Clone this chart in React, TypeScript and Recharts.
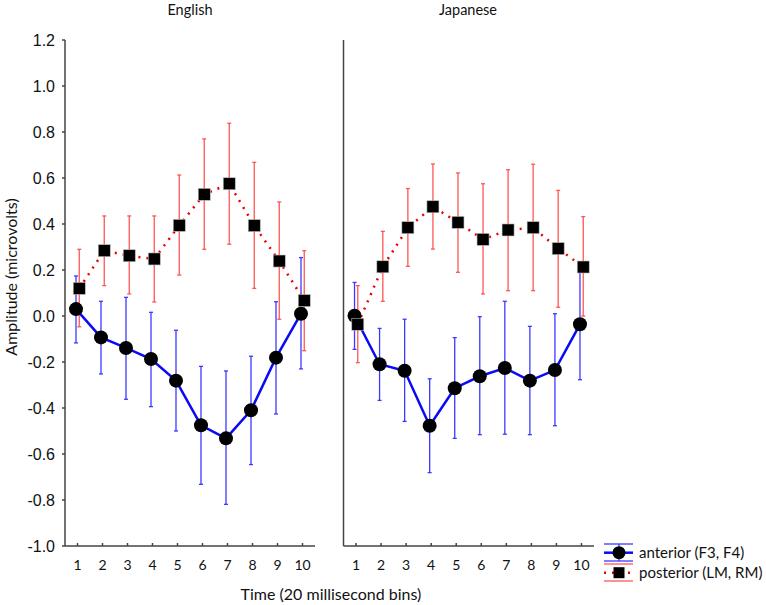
import React from 'react';
import { LineChart, Line, XAxis, YAxis, ErrorBar } from 'recharts';

const bins = [1, 2, 3, 4, 5, 6, 7, 8, 9, 10];
const yTicks = [-1.0, -0.8, -0.6, -0.4, -0.2, 0.0, 0.2, 0.4, 0.6, 0.8, 1.0, 1.2];

const engAnteriorMean = [0.03, -0.093, -0.139, -0.187, -0.281, -0.475, -0.532, -0.41, -0.181, 0.01];
const engAnteriorLow = [-0.117, -0.252, -0.362, -0.394, -0.5, -0.732, -0.819, -0.646, -0.426, -0.23];
const engAnteriorHigh = [0.174, 0.064, 0.081, 0.016, -0.062, -0.219, -0.239, -0.175, 0.062, 0.254];

const engPosteriorMean = [0.12, 0.284, 0.262, 0.248, 0.394, 0.529, 0.575, 0.393, 0.239, 0.067];
const engPosteriorLow = [-0.047, 0.132, 0.096, 0.061, 0.178, 0.29, 0.312, 0.12, -0.014, -0.151];
const engPosteriorHigh = [0.29, 0.435, 0.435, 0.435, 0.613, 0.77, 0.838, 0.668, 0.496, 0.284];

const jpnAnteriorMean = [0.001, -0.21, -0.238, -0.477, -0.314, -0.262, -0.226, -0.281, -0.235, -0.036];
const jpnAnteriorLow = [-0.145, -0.367, -0.458, -0.681, -0.532, -0.516, -0.514, -0.516, -0.477, -0.277];
const jpnAnteriorHigh = [0.146, -0.054, -0.014, -0.273, -0.094, -0.003, 0.064, -0.045, 0.01, 0.205];

const jpnPosteriorMean = [-0.036, 0.214, 0.384, 0.475, 0.407, 0.333, 0.374, 0.384, 0.293, 0.213];
const jpnPosteriorLow = [-0.203, 0.064, 0.216, 0.291, 0.19, 0.096, 0.11, 0.11, 0.038, 0.0];
const jpnPosteriorHigh = [0.132, 0.368, 0.554, 0.661, 0.622, 0.575, 0.636, 0.66, 0.546, 0.432];

const ANT_OFFSET = -0.06;
const POST_OFFSET = 0.07;

function buildRows(aM: number[], aL: number[], aH: number[], pM: number[], pL: number[], pH: number[]) {
  return bins.map((b, i) => ({
    x: b,
    xa: b + ANT_OFFSET,
    xp: b + POST_OFFSET,
    a: aM[i],
    aErr: [aM[i] - aL[i], aH[i] - aM[i]],
    p: pM[i],
    pErr: [pM[i] - pL[i], pH[i] - pM[i]],
  }));
}

const englishRows = buildRows(engAnteriorMean, engAnteriorLow, engAnteriorHigh, engPosteriorMean, engPosteriorLow, engPosteriorHigh);
const japaneseRows = buildRows(jpnAnteriorMean, jpnAnteriorLow, jpnAnteriorHigh, jpnPosteriorMean, jpnPosteriorLow, jpnPosteriorHigh);

const BLUE = '#0a0af5';
const BLUE_ERR = '#3a3aff';
const RED = '#ee0000';
const RED_ERR = '#ff5555';
const AXIS = '#444444';
const SANS = 'Lato, "Open Sans", sans-serif';
const TICKFONT = '"Liberation Sans", Arial, sans-serif';

const CircleDot = (props: any) => {
  const { cx, cy, index } = props;
  if (cx == null || cy == null) return <g key={`c${index}`} />;
  return <circle key={`c${index}`} cx={cx} cy={cy} r={7} fill="#000" />;
};

const SquareDot = (props: any) => {
  const { cx, cy, index } = props;
  if (cx == null || cy == null) return <g key={`s${index}`} />;
  return <rect key={`s${index}`} x={cx - 6} y={cy - 6} width={12} height={12} fill="#000" stroke="#bbb" strokeWidth={0.6} />;
};

function Panel({ rows, showYLabels }: { rows: any[]; showYLabels: boolean }) {
  const w = showYLabels ? 330 : 280;
  const yWidth = showYLabels ? 65 : 13.5;
  const right = showYLabels ? 15 : 16;
  return (
    <LineChart width={w} height={605} data={rows} margin={{ top: 40, right, bottom: 0, left: 0 }}>
      <XAxis
        xAxisId="a"
        dataKey="xa"
        type="number"
        domain={[0.5, 10.5]}
        ticks={bins}
        allowDataOverflow
        height={59}
        stroke={AXIS}
        strokeWidth={1.5}
        tickSize={-3}
        tickMargin={17}
        tick={{ fill: '#111', fontSize: 14, fontFamily: SANS }}
      />
      <XAxis xAxisId="p" dataKey="xp" type="number" domain={[0.5, 10.5]} allowDataOverflow hide />
      <YAxis
        type="number"
        domain={[-1, 1.2]}
        ticks={yTicks}
        allowDataOverflow
        width={yWidth}
        stroke={AXIS}
        strokeWidth={1.5}
        tickSize={showYLabels ? 3 : -4}
        tickMargin={showYLabels ? 7 : 0}
        tick={showYLabels ? { fill: '#111', fontSize: 16, fontFamily: TICKFONT } : false}
        tickFormatter={(v: number) => v.toFixed(1)}
      />
      <Line
        xAxisId="a"
        dataKey="a"
        stroke={BLUE}
        strokeWidth={2.5}
        dot={CircleDot}
        activeDot={false}
        isAnimationActive={false}
      >
        <ErrorBar dataKey="aErr" direction="y" width={2} stroke={BLUE_ERR} strokeWidth={1.3} />
      </Line>
      <Line
        xAxisId="p"
        dataKey="p"
        stroke={RED}
        strokeWidth={2.5}
        strokeDasharray="2 6"
        dot={SquareDot}
        activeDot={false}
        isAnimationActive={false}
      >
        <ErrorBar dataKey="pErr" direction="y" width={2} stroke={RED_ERR} strokeWidth={1.3} />
      </Line>
    </LineChart>
  );
}

export default function App() {
  return (
    <div style={{ position: 'absolute', left: 0, top: 0, width: 766, height: 605, background: '#fff', fontFamily: SANS }}>
      <div style={{ position: 'absolute', left: 0, top: 0 }}>
        <Panel rows={englishRows} showYLabels={true} />
      </div>
      <div style={{ position: 'absolute', left: 330, top: 0 }}>
        <Panel rows={japaneseRows} showYLabels={false} />
      </div>
      <svg style={{ position: 'absolute', left: 0, top: 0 }} width={766} height={605} pointerEvents="none">
        <text x={190} y={15} textAnchor="middle" fontSize={14.5} fontFamily={SANS} fill="#111">English</text>
        <text x={468} y={15} textAnchor="middle" fontSize={14.5} fontFamily={SANS} fill="#111">Japanese</text>
        <text x={331} y={600} textAnchor="middle" fontSize={16} fontFamily={SANS} fill="#111">Time (20 millisecond bins)</text>
        <text
          x={16.5}
          y={277}
          textAnchor="middle"
          fontSize={16}
          fontFamily={SANS}
          fill="#111"
          transform="rotate(-90 16.5 277)"
        >
          Amplitude (microvolts)
        </text>
        <g>
          <line x1={604} x2={633} y1={544} y2={544} stroke={BLUE_ERR} strokeWidth={1.3} />
          <line x1={604} x2={633} y1={552.7} y2={552.7} stroke={BLUE} strokeWidth={2.5} />
          <line x1={604} x2={633} y1={561} y2={561} stroke={BLUE_ERR} strokeWidth={1.3} />
          <line x1={619} x2={619} y1={544} y2={561} stroke={BLUE_ERR} strokeWidth={1.3} />
          <circle cx={619} cy={552.7} r={6.5} fill="#000" />
          <line x1={604} x2={633} y1={564} y2={564} stroke={RED_ERR} strokeWidth={1.3} />
          <line x1={604} x2={633} y1={572.7} y2={572.7} stroke={RED} strokeWidth={2.5} strokeDasharray="2 6" />
          <rect x={613.5} y={567.2} width={11} height={11} fill="#000" />
          <line x1={604} x2={633} y1={581} y2={581} stroke={RED_ERR} strokeWidth={1.3} />
          <text x={639} y={558} fontSize={15} fontFamily={SANS} fill="#111">anterior (F3, F4)</text>
          <text x={639} y={578} fontSize={15} fontFamily={SANS} fill="#111">posterior (LM, RM)</text>
        </g>
      </svg>
    </div>
  );
}
